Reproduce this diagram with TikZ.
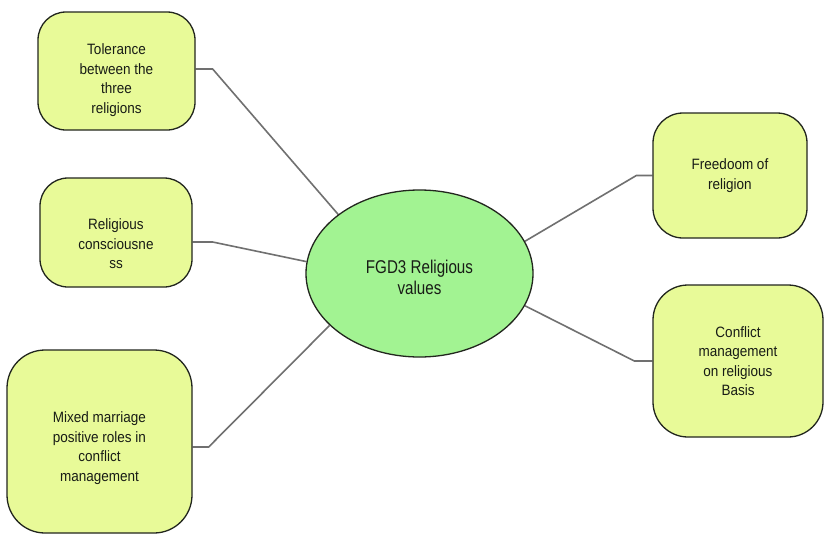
\documentclass[tikz,border=0pt]{standalone}
\usepackage{fontspec}
\setmainfont{Liberation Sans}
\newfontfamily\boxfont[FakeStretch=0.9]{Liberation Sans}
\newfontfamily\ellfont[FakeStretch=0.82]{Liberation Sans}
\usetikzlibrary{shapes.geometric,backgrounds}

\definecolor{boxfill}{RGB}{232,250,152}
\definecolor{ellfill}{RGB}{162,243,146}
\definecolor{edgeline}{RGB}{34,38,30}
\definecolor{linkgray}{RGB}{112,112,112}
\definecolor{inkdark}{RGB}{24,28,22}

% raises the top of the first line so the text block sits a little lower
\newcommand\topgap[1]{\rule{0pt}{#1}}

\tikzset{
  topic/.style={draw=edgeline, line width=1.3pt, fill=boxfill,
    text=inkdark, align=center, inner sep=0pt,
    font=\boxfont\fontsize{15}{19.5}\selectfont},
  hub/.style={ellipse, draw=edgeline, line width=1.3pt, fill=ellfill,
    text=inkdark, align=center, inner sep=0pt,
    font=\ellfont\fontsize{18.5}{21}\selectfont},
  link/.style={draw=linkgray, line width=1.6pt, line join=round}
}

\begin{document}
\begin{tikzpicture}[x=1pt, y=-1pt]
  \useasboundingbox (0,0) rectangle (825,544);

  % central topic
  \node[hub, minimum width=227pt, minimum height=167pt] (c) at (419.5,273.5)
    {\topgap{22pt}FGD3 Religious\\values};

  % surrounding themes
  \node[topic, rounded corners=28pt, minimum width=157pt, minimum height=118pt]
    (b1) at (116.5,71) {\topgap{29pt}Tolerance\\between the\\three\\religions};
  \node[topic, rounded corners=28pt, minimum width=152pt, minimum height=109pt]
    (b2) at (116,232.5) {\topgap{34pt}Religious\\consciousne\\ss};
  \node[topic, rounded corners=38pt, minimum width=185pt, minimum height=183pt]
    (b3) at (99.5,441.5) {\topgap{24pt}Mixed marriage\\positive roles in\\conflict\\management};
  \node[topic, rounded corners=30pt, minimum width=154pt, minimum height=125pt]
    (b4) at (730,175.5) {Freedoom of\\religion};
  \node[topic, rounded corners=35pt, minimum width=170pt, minimum height=152pt]
    (b5) at (738,361) {Conflict\\management\\on religious\\Basis};

  % white page, then the connectors behind the shapes:
  % a short horizontal stub, then straight to the ellipse
  \begin{scope}[on background layer]
    \fill[white] (0,0) rectangle (825,544);
    \draw[link] ([yshift=2pt]b1.east) -- ++(17,0) -- (c.144.7);
    \draw[link] ([yshift=-9.5pt]b2.east) -- ++(20,0) -- (c.174);
    \draw[link] ([yshift=-5.5pt]b3.east) -- ++(16,0) -- (c.210.5);
    \draw[link] (b4.west) -- ++(-16,0) -- (c.17);
    \draw[link] (b5.west) -- ++(-18,0) -- (c.343);
  \end{scope}
\end{tikzpicture}
\end{document}
